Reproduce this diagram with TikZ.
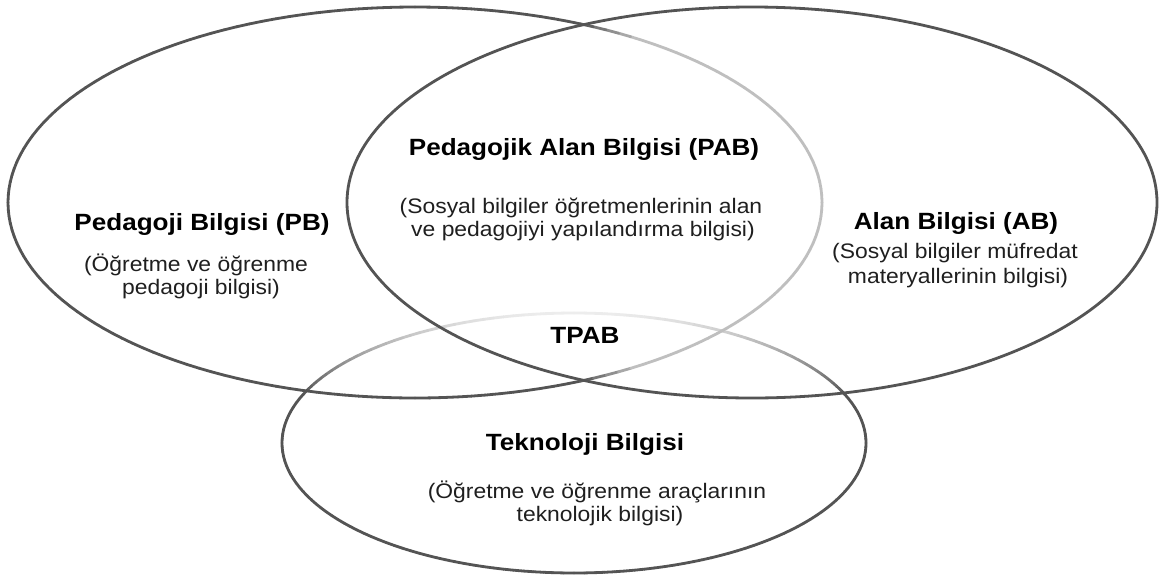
\documentclass[tikz,border=0pt]{standalone}
\usepackage{fontspec}
\setmainfont{Liberation Sans}
\newfontfamily\notefont{Liberation Sans}[FakeStretch=1.09]
% bold headings, widened a little
\newcommand\headtext[1]{\scalebox{1.11}[1]{\bfseries #1}}
\begin{document}
\begin{tikzpicture}[x=1pt,y=-1pt,
  title/.style={font=\fontsize{23.5}{28}\selectfont, anchor=base, inner sep=0pt, text=black},
  note/.style={font=\notefont\fontsize{21}{24}\selectfont, anchor=base, inner sep=0pt, text=black!88},
  rim/.style={line width=2.8pt, line cap=round}]
\useasboundingbox (0,0) rectangle (1159,579);
\fill[white] (0,0) rectangle (1159,579);

% Technology ellipse: fades to near white along its upper arc
\foreach \a in {0,2,...,358}{
  \pgfmathsetmacro\b{\a+2}
  \pgfmathsetmacro\u{abs(\a+1-90)}
  \pgfmathsetmacro\g{0.33+0.6*max(0,1-(\u/68)^2)}
  \definecolor{segc}{gray}{\g}
  \draw[rim,segc] ({574+292*cos(\a)},{443-130*sin(\a)}) -- ({574+292*cos(\b)},{443-130*sin(\b)});
}

% Pedagogy ellipse: lighter on its right-hand arc
\foreach \a in {-180,-178,...,178}{
  \pgfmathsetmacro\b{\a+2}
  \pgfmathsetmacro\g{0.33+0.42*max(0,min(1,(66-abs(\a+1))/9))}
  \definecolor{segc}{gray}{\g}
  \draw[rim,segc] ({415+407*cos(\a)},{202.5-195.5*sin(\a)}) -- ({415+407*cos(\b)},{202.5-195.5*sin(\b)});
}

% Content ellipse: uniform dark rim
\draw[rim,black!67] (752,202.5) ellipse [x radius=405, y radius=195.5];

% Labels
\node[title] (pbT)  at (202,230) {\headtext{Pedagoji Bilgisi (PB)}};
\node[note]  (pbS1) at (196,271) {(Öğretme ve öğrenme};
\node[note]  (pbS2) at (201,294) {pedagoji bilgisi)};

\node[title] (pabT)  at (584,155) {\headtext{Pedagojik Alan Bilgisi (PAB)}};
\node[note]  (pabS1) at (581,213) {(Sosyal bilgiler öğretmenlerinin alan};
\node[note]  (pabS2) at (583,236) {ve pedagojiyi yapılandırma bilgisi)};

\node[title] (abT)  at (956,229) {\headtext{Alan Bilgisi (AB)}};
\node[note]  (abS1) at (955,258) {(Sosyal bilgiler müfredat};
\node[note]  (abS2) at (958,283) {materyallerinin bilgisi)};

\node[title] (tpab) at (585,343) {\headtext{TPAB}};

\node[title] (tbT)  at (585,450) {\headtext{Teknoloji Bilgisi}};
\node[note]  (tbS1) at (597,498) {(Öğretme ve öğrenme araçlarının};
\node[note]  (tbS2) at (600,521) {teknolojik bilgisi)};
\end{tikzpicture}
\end{document}
